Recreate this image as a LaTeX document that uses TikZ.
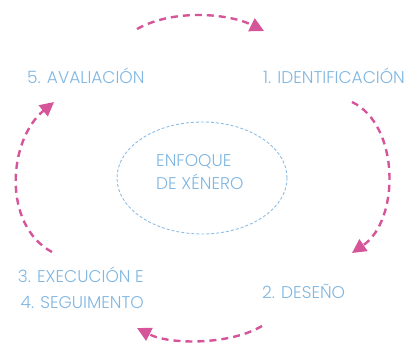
\documentclass[tikz,border=0pt]{standalone}
\usepackage{fontspec}
\IfFontExistsTF{Poppins Light}{\setmainfont{Poppins Light}}{\setmainfont{Poppins}}
\usetikzlibrary{arrows.meta,shapes.geometric}
\definecolor{pinkc}{HTML}{D6559A}
\definecolor{bluet}{HTML}{80B6E1}
\definecolor{bluee}{HTML}{8DBDE6}
\tikzset{
  lbl/.style={text=bluet, font=\fontsize{17}{19}\selectfont, inner sep=0pt},
  cyc/.style={draw=pinkc, line width=2.4pt, dash pattern=on 7pt off 5pt,
    -{Triangle[length=14pt,width=14pt,fill=pinkc]}},
}
\begin{document}
\begin{tikzpicture}[x=1pt,y=-1pt]
\useasboundingbox (0,0) rectangle (417,343);
\node[lbl, anchor=west] (eval) at (27,76) {5. AVALIACIÓN};
\node[lbl, anchor=west] (ident) at (263,76) {1. IDENTIFICACIÓN};
\node[lbl, anchor=west] (des) at (262,291) {2. DESEÑO};
\node[lbl, anchor=east] (exec) at (144,275) {3. EXECUCIÓN E};
\node[lbl, anchor=east] (seg) at (144,302) {4. SEGUIMENTO};
\node[draw=bluee, dash pattern=on 3pt off 2pt, line width=0.9pt, ellipse, minimum width=170pt, minimum height=112pt] (core) at (202,178) {};
\node[lbl, align=left, anchor=west, font=\fontsize{17}{23}\selectfont] (coret) at (156,172) {ENFOQUE\\DE XÉNERO};
\coordinate (a1s) at (137,29); \coordinate (a1e) at (264,31);
\coordinate (a2s) at (352,102); \coordinate (a2e) at (352,253);
\coordinate (a3s) at (262,326); \coordinate (a3e) at (137,328);
\coordinate (a4s) at (52,252); \coordinate (a4e) at (54,102);
\draw[cyc] (a1s) .. controls (175,8) and (230,14) .. (a1e);
\draw[cyc] (a2s) .. controls (400,125) and (400,220) .. (a2e);
\draw[cyc] (a3s) .. controls (230,345) and (170,345) .. (a3e);
\draw[cyc] (a4s) .. controls (2,225) and (8,140) .. (a4e);
\end{tikzpicture}
\end{document}
